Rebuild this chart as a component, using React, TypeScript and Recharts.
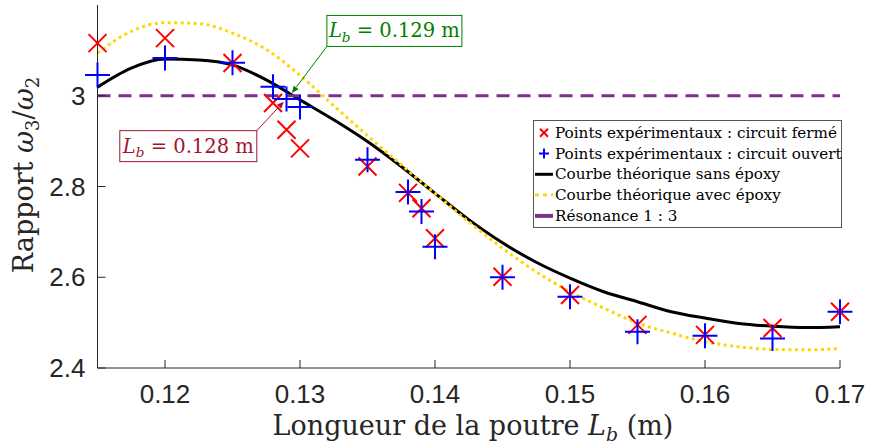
import {
  ComposedChart,
  Line,
  Scatter,
  XAxis,
  YAxis,
  ReferenceLine,
  ReferenceDot,
  Legend,
} from "recharts";

const X_TICKS = [0.12, 0.13, 0.14, 0.15, 0.16, 0.17];
const Y_TICKS = [2.4, 2.6, 2.8, 3];

// mesures
const LB_MES = [0.115, 0.12, 0.125, 0.128, 0.129, 0.13, 0.135, 0.138, 0.139, 0.14, 0.145, 0.15, 0.155, 0.16, 0.165, 0.17];
const RATIO_FERME = [3.116, 3.127, 3.072, 2.984, 2.925, 2.884, 2.844, 2.786, 2.752, 2.686, 2.601, 2.561, 2.495, 2.473, 2.488, 2.524];
const RATIO_OUVERT = [3.046, 3.083, 3.073, 3.02, 2.993, 2.975, 2.859, 2.788, 2.745, 2.667, 2.6, 2.557, 2.48, 2.471, 2.465, 2.524];

// courbes theoriques
const LB_THEO = [0.115, 0.1175, 0.12, 0.1225, 0.125, 0.1275, 0.13, 0.1325, 0.135, 0.1375, 0.14, 0.1425, 0.145, 0.1475, 0.15, 0.1525, 0.155, 0.1575, 0.16, 0.1625, 0.165, 0.1675, 0.17];
const SANS_EPOXY = [3.019, 3.061, 3.081, 3.079, 3.068, 3.035, 2.991, 2.947, 2.899, 2.844, 2.785, 2.727, 2.676, 2.633, 2.598, 2.568, 2.546, 2.524, 2.51, 2.498, 2.492, 2.489, 2.491];
const AVEC_EPOXY = [3.094, 3.142, 3.161, 3.159, 3.138, 3.102, 3.045, 2.978, 2.912, 2.848, 2.785, 2.722, 2.664, 2.612, 2.568, 2.532, 2.499, 2.477, 2.458, 2.447, 2.441, 2.44, 2.443];

const RESONANCE = 3;

const ANNOTS = [
  { x: 0.1294, y: 3.006, text: "0.129", color: "#008000", side: "up" },
  { x: 0.1288, y: 2.987, text: "0.128", color: "#A2142F", side: "down" },
];

const SERIF = "DejaVu Serif";
const SANS = "Liberation Sans";
const AXIS = "#262626";
const RED = "#FF0000";
const BLUE = "#0000FF";
const YELLOW = "#FFD700";
const PURPLE = "#7E2F8E";

const fermeData = LB_MES.map((x, i) => ({ x, y: RATIO_FERME[i] }));
const ouvertData = LB_MES.map((x, i) => ({ x, y: RATIO_OUVERT[i] }));
const sansData = LB_THEO.map((x, i) => ({ x, y: SANS_EPOXY[i] }));
const avecData = LB_THEO.map((x, i) => ({ x, y: AVEC_EPOXY[i] }));

const XMark = (p: any) => {
  const { cx, cy } = p;
  const r = 9;
  return (
    <path
      d={`M${cx - r},${cy - r}L${cx + r},${cy + r}M${cx - r},${cy + r}L${cx + r},${cy - r}`}
      stroke={RED}
      strokeWidth={2}
      fill="none"
    />
  );
};

const PlusMark = (p: any) => {
  const { cx, cy } = p;
  const r = 12.5;
  return (
    <path
      d={`M${cx - r},${cy}L${cx + r},${cy}M${cx},${cy - r}L${cx},${cy + r}`}
      stroke={BLUE}
      strokeWidth={2}
      fill="none"
    />
  );
};

const XTick = ({ x, y, payload }: any) => (
  <g>
    <line x1={x} x2={x} y1={y} y2={y - 8} stroke={AXIS} strokeWidth={1} />
    <text x={x} y={y + 35} textAnchor="middle" fontFamily={SANS} fontSize={26} fill={AXIS}>
      {payload.value}
    </text>
  </g>
);

const YTick = ({ x, y, payload }: any) => (
  <g>
    <line x1={x} x2={x + 8} y1={y} y2={y} stroke={AXIS} strokeWidth={1} />
    <text x={x - 12} y={y + 9} textAnchor="end" fontFamily={SANS} fontSize={26} fill={AXIS}>
      {payload.value}
    </text>
  </g>
);

const Lb = ({ size }: { size: number }) => (
  <>
    <tspan fontStyle="italic">L</tspan>
    <tspan dy={size * 0.22} fontSize={size * 0.7} fontStyle="italic">b</tspan>
  </>
);

const Annotation = (p: any) => {
  const { cx, cy, a } = p;
  const up = a.side === "up";
  const w = up ? 135 : 137;
  const h = 31;
  const tailX = up ? cx + 35 : cx - 27;
  const tailY = up ? cy - 46.6 : cy + 29;
  const boxX = up ? tailX : tailX - w;
  const boxY = up ? tailY - h : tailY;
  const ang = Math.atan2(cy - tailY, cx - tailX);
  const hl = 7;
  const hw = 3;
  const bx = cx - hl * Math.cos(ang);
  const by = cy - hl * Math.sin(ang);
  const px = -Math.sin(ang) * hw;
  const py = Math.cos(ang) * hw;
  return (
    <g>
      <line x1={tailX} y1={tailY} x2={bx} y2={by} stroke={a.color} strokeWidth={1} />
      <path d={`M${cx},${cy}L${bx + px},${by + py}L${bx - px},${by - py}Z`} fill={a.color} />
      <rect x={boxX} y={boxY} width={w} height={h} fill="#fff" stroke={a.color} strokeWidth={1} />
      <text x={boxX + w / 2} y={boxY + 22} textAnchor="middle" fontFamily={SERIF} fontSize={19.5} fill={a.color}>
        <Lb size={19.5} />
        <tspan dy={-19.5 * 0.22}> = {a.text} m</tspan>
      </text>
    </g>
  );
};

const LEGEND_ITEMS = [
  { label: "Points expérimentaux : circuit fermé", kind: "x" },
  { label: "Points expérimentaux : circuit ouvert", kind: "+" },
  { label: "Courbe théorique sans époxy", kind: "black" },
  { label: "Courbe théorique avec époxy", kind: "yellow" },
  { label: "Résonance 1 : 3", kind: "purple" },
];

const LegendBox = () => (
  <svg width={310} height={109} style={{ display: "block" }}>
    <rect x={0.5} y={0.5} width={308} height={107} fill="#fff" stroke="#555" strokeWidth={1} />
    {LEGEND_ITEMS.map((it, i) => {
      const cy = 12.7 + i * 20.8;
      let icon;
      if (it.kind === "x")
        icon = <path d={`M${7},${cy - 4}L${15},${cy + 4}M${7},${cy + 4}L${15},${cy - 4}`} stroke={RED} strokeWidth={2} />;
      else if (it.kind === "+")
        icon = <path d={`M${6},${cy}L${16},${cy}M${11},${cy - 5}L${11},${cy + 5}`} stroke={BLUE} strokeWidth={2} />;
      else if (it.kind === "black")
        icon = <line x1={2} x2={20} y1={cy} y2={cy} stroke="#000" strokeWidth={3} />;
      else if (it.kind === "yellow")
        icon = <line x1={2} x2={20} y1={cy} y2={cy} stroke={YELLOW} strokeWidth={3} strokeDasharray="4 4" />;
      else icon = <line x1={2} x2={20} y1={cy} y2={cy} stroke={PURPLE} strokeWidth={4} />;
      return (
        <g key={it.label}>
          {icon}
          <text x={22} y={cy + 5} fontFamily={SERIF} fontSize={15.2} fill="#000">
            {it.label}
          </text>
        </g>
      );
    })}
  </svg>
);

const YLabel = () => (
  <text
    transform="translate(33,175) rotate(-90)"
    textAnchor="middle"
    fontFamily={SERIF}
    fontSize={27}
    fill={AXIS}
  >
    Rapport{" "}
    <tspan fontStyle="italic">ω</tspan>
    <tspan dy={6} fontSize={18}>3</tspan>
    <tspan dy={-6}>/</tspan>
    <tspan fontStyle="italic">ω</tspan>
    <tspan dy={6} fontSize={18}>2</tspan>
  </text>
);

const XLabel = () => (
  <text x={473} y={435} textAnchor="middle" fontFamily={SERIF} fontSize={27} fill={AXIS}>
    Longueur de la poutre <Lb size={27} />
    <tspan dy={-27 * 0.22}> (m)</tspan>
  </text>
);

export default function App() {
  return (
    <div style={{ position: "absolute", left: 0, top: 0, width: 871, height: 447, background: "#fff" }}>
      <ComposedChart width={871} height={447} margin={{ top: 5, right: 31, bottom: 0, left: 0 }}>
        <XAxis
          dataKey="x"
          type="number"
          domain={[0.115, 0.17]}
          ticks={X_TICKS}
          tick={<XTick />}
          tickSize={0}
          tickMargin={0}
          tickLine={false}
          axisLine={{ stroke: AXIS }}
          height={79}
          label={{ content: () => <XLabel /> }}
        />
        <YAxis
          dataKey="y"
          type="number"
          domain={[2.4, 3.2]}
          ticks={Y_TICKS}
          tick={<YTick />}
          tickSize={0}
          tickMargin={0}
          tickLine={false}
          axisLine={{ stroke: AXIS }}
          width={97.5}
          label={{ content: () => <YLabel /> }}
        />
        <Scatter data={fermeData} dataKey="y" shape={<XMark />} isAnimationActive={false} />
        <Scatter data={ouvertData} dataKey="y" shape={<PlusMark />} isAnimationActive={false} />
        <Line data={sansData} dataKey="y" type="monotone" stroke="#000" strokeWidth={3} dot={false} isAnimationActive={false} />
        <Line data={avecData} dataKey="y" type="monotone" stroke={YELLOW} strokeWidth={3} strokeDasharray="3 3.5" dot={false} isAnimationActive={false} />
        <ReferenceLine y={RESONANCE} stroke={PURPLE} strokeWidth={3} strokeDasharray="13 8" />
        {ANNOTS.map((a) => (
          <ReferenceDot key={a.text} x={a.x} y={a.y} shape={(p: any) => <Annotation {...p} a={a} />} />
        ))}
        <Legend
          layout="vertical"
          align="center"
          verticalAlign="middle"
          wrapperStyle={{ left: 533, top: 120, width: 310, height: 109 }}
          content={() => <LegendBox />}
        />
      </ComposedChart>
    </div>
  );
}
